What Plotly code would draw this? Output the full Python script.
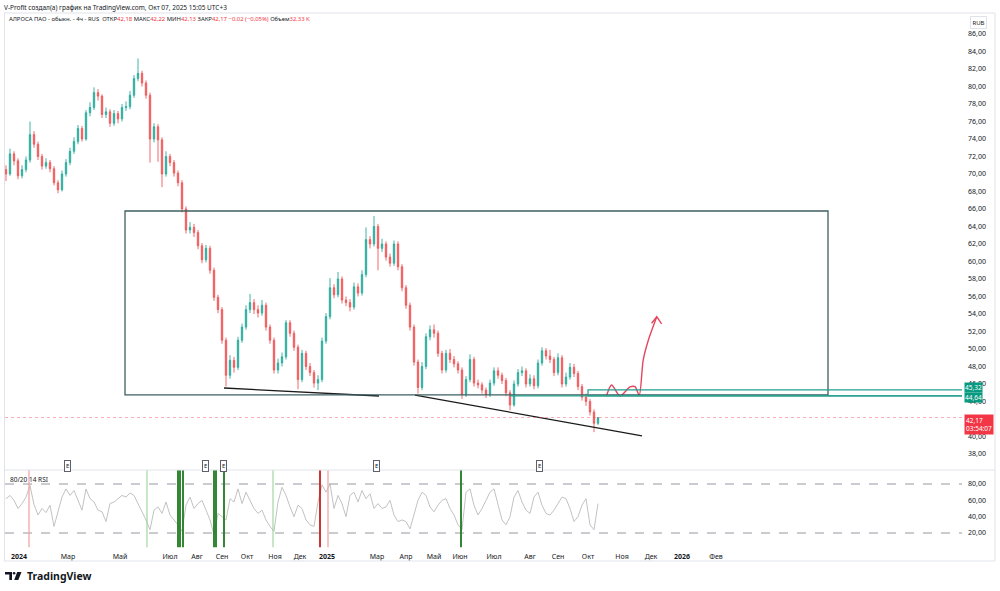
import plotly.graph_objects as go

# ---------------- data ----------------
close = [70.0, 72.3, 71.5, 69.8, 70.5, 71.6, 74.5, 73.4, 72.0, 70.9,
         71.3, 70.6, 69.0, 68.2, 70.0, 71.3, 72.6, 73.7, 75.2, 74.0,
         77.0, 77.6, 79.3, 78.9, 76.8, 77.1, 75.8, 76.9, 76.3, 77.6,
         77.7, 79.0, 80.9, 81.5, 80.4, 79.0, 74.0, 75.4, 73.9, 70.0,
         72.0, 71.3, 70.1, 69.0, 66.0, 63.6, 63.9, 63.3, 61.8, 60.2,
         61.5, 59.0, 55.9, 54.5, 51.0, 47.0, 48.7, 47.9, 51.0, 52.5,
         54.5, 55.3, 54.5, 54.1, 55.0, 52.5, 51.0, 47.6, 48.4, 49.1,
         53.0, 51.8, 50.2, 46.5, 49.5, 48.0, 47.3, 46.1, 46.5, 50.9,
         53.7, 57.0, 56.2, 58.0, 55.6, 55.3, 54.8, 57.1, 56.4, 58.5,
         62.5, 62.0, 64.0, 61.5, 62.0, 60.5, 59.8, 62.0, 59.4, 57.0,
         55.0, 52.5, 48.5, 45.6, 48.0, 51.4, 52.2, 51.8, 49.5, 47.6,
         49.5, 48.8, 48.3, 47.6, 44.8, 46.5, 48.8, 46.1, 45.9, 45.3,
         44.8, 46.1, 47.5, 47.0, 46.4, 45.0, 43.6, 46.0, 47.3, 47.5,
         46.0, 46.6, 45.8, 48.4, 49.8, 49.2, 48.8, 47.3, 49.0, 46.0,
         46.8, 47.9, 47.2, 45.7, 44.5, 44.0, 42.8, 41.5, 42.17]
high = [71.0, 72.9, 72.6, 71.8, 71.0, 72.0, 76.0, 74.9, 73.7, 72.3,
        71.8, 71.6, 70.9, 69.3, 70.4, 71.7, 73.0, 74.2, 75.6, 75.5,
        77.3, 78.2, 79.9, 79.7, 79.1, 77.6, 77.4, 77.3, 77.2, 78.0,
        78.3, 79.5, 81.3, 83.2, 81.8, 80.7, 79.3, 75.8, 75.7, 74.2,
        72.6, 72.3, 71.6, 70.4, 69.3, 66.3, 64.5, 64.3, 63.6, 62.1,
        61.9, 61.8, 59.3, 56.2, 54.8, 51.3, 49.3, 49.1, 51.4, 52.9,
        55.0, 56.3, 55.7, 55.0, 55.6, 55.3, 52.8, 51.3, 48.9, 49.6,
        53.3, 53.3, 52.1, 50.5, 49.9, 49.8, 48.4, 47.6, 47.0, 51.3,
        54.1, 58.1, 57.4, 58.8, 58.3, 56.0, 55.7, 57.6, 57.5, 59.0,
        63.9, 62.9, 65.2, 64.3, 62.6, 62.3, 60.9, 62.4, 62.3, 59.7,
        57.3, 55.3, 52.8, 48.8, 48.5, 51.8, 52.7, 52.8, 52.1, 49.8,
        49.9, 50.0, 49.2, 48.6, 47.9, 46.9, 49.4, 49.1, 46.5, 46.2,
        45.6, 46.5, 47.9, 47.9, 47.3, 46.7, 45.3, 46.4, 47.7, 48.0,
        47.8, 47.1, 47.0, 48.8, 50.2, 50.1, 49.9, 49.1, 49.5, 49.3,
        47.3, 48.4, 48.3, 47.5, 46.0, 44.9, 44.3, 43.1, 42.22]
low = [69.2, 69.8, 71.0, 69.4, 69.5, 70.2, 71.3, 73.0, 71.6, 70.5,
       70.6, 70.2, 68.7, 67.8, 68.0, 69.7, 71.0, 72.3, 73.4, 73.7,
       73.8, 76.6, 77.3, 78.4, 76.4, 76.4, 75.4, 75.5, 75.8, 76.0,
       77.2, 77.4, 78.7, 80.6, 80.0, 78.6, 71.3, 73.6, 71.4, 68.5,
       69.7, 70.9, 69.7, 68.6, 65.6, 63.2, 63.2, 62.8, 61.4, 59.8,
       59.9, 58.6, 55.5, 54.1, 50.6, 45.7, 46.6, 47.3, 47.6, 50.7,
       52.2, 54.1, 54.0, 53.6, 53.8, 52.1, 50.6, 47.2, 47.2, 48.0,
       48.8, 51.4, 49.8, 45.4, 46.2, 47.6, 46.9, 45.6, 45.3, 46.2,
       50.6, 53.4, 55.8, 55.9, 55.2, 54.9, 54.3, 54.5, 56.0, 56.1,
       58.2, 61.5, 61.7, 59.0, 61.1, 60.1, 59.4, 59.5, 59.0, 56.6,
       54.6, 52.1, 48.1, 44.9, 45.3, 47.7, 51.0, 51.3, 49.1, 47.2,
       47.3, 48.4, 47.9, 47.2, 44.3, 44.5, 46.2, 45.7, 45.5, 44.9,
       44.4, 44.5, 45.8, 46.6, 46.0, 44.6, 43.0, 43.4, 45.7, 46.9,
       45.6, 45.7, 45.4, 45.5, 48.1, 48.8, 48.4, 46.9, 47.0, 45.6,
       45.7, 46.5, 46.8, 45.3, 44.1, 43.5, 42.4, 40.5, 41.3]
first_open = 70.5
rsi = [62, 66, 60, 50, 56, 64, 78, 55, 42, 50,
       45, 54, 28, 46, 64, 74, 66, 72, 60, 48,
       74, 62, 58, 48, 46, 34, 56, 58, 62, 66,
       64, 69, 66, 56, 48, 36, 24, 48, 52, 44,
       58, 42, 36, 30, 22, 54, 64, 50, 56, 60,
       48, 36, 18, 44, 40, 36, 62, 58, 74, 56,
       70, 60, 50, 44, 48, 36, 28, 22, 58, 76,
       66, 52, 40, 54, 50, 36, 30, 28, 58, 79,
       70, 80, 50, 66, 56, 40, 66, 70, 58, 72,
       62, 68, 50, 56, 50, 52, 60, 42, 34, 36,
       34, 25, 42, 60, 70, 66, 52, 46, 54, 60,
       62, 50, 42, 30, 24, 70, 74, 54, 42, 50,
       60, 70, 74, 56, 36, 30, 40, 64, 72, 58,
       48, 44, 64, 70, 54, 44, 42, 48, 56, 64,
       62, 50, 34, 40, 54, 62, 30, 24, 56]
open_ = [first_open] + close[:-1]
bars = list(range(len(close)))

# time axis (bar positions of month starts)
month_pos = [3.25, 15.5, 28.5, 41, 47.75, 54, 60.25, 67.25, 73.5, 80.25, 92.75,
             100, 107, 113.5, 122, 131, 138, 145.5, 154, 161.25, 169, 177.5]
month_lbl = ["<b>2024</b>", "Мар", "Май", "Июл", "Авг", "Сен", "Окт", "Ноя", "Дек",
             "<b>2025</b>", "Мар", "Апр", "Май", "Июн", "Июл", "Авг", "Сен", "Окт",
             "Ноя", "Дек", "<b>2026</b>", "Фев"]
price_ticks = [38, 40, 44, 46, 48, 50, 52, 54, 56, 58, 60, 62, 64, 66, 68, 70, 72,
               74, 76, 78, 80, 82, 84, 86]
price_lbls = [f"{v},00" for v in price_ticks]
rsi_ticks = [20, 40, 60, 80]
rsi_lbls = ["20,00", "40,00", "60,00", "80,00"]

# RSI signal bars
sig_bar = [5.75, 35.25, 43, 43.5, 44.25, 52, 52.5, 54.5, 66.75, 78.5, 80.5, 113.75]
sig_kind = ["ob2", "os2", "os", "os", "os", "os", "os", "os", "os2", "ob", "ob2", "os"]
# earnings markers
earn_bar = [15.25, 49.75, 54.25, 92.5, 133.25]

# drawings
box_x = [29.75, 205.5]
box_y = [44.75, 65.77]
trend1_x = [54.5, 93.25]
trend1_y = [45.54, 44.63]
trend2_x = [102.25, 159]
trend2_y = [44.74, 40.06]
zone_x0 = 145.5
zone_y = [44.64, 45.32]
level_x0 = 126
path_x = [150.2, 151.4, 153.5, 156, 157.25, 158.3, 159.3, 160.6, 162.7]
path_y = [44.74, 45.89, 44.63, 45.66, 45.69, 44.74, 48.74, 51.03, 53.69]
head_x = [161.4, 162.7, 163.9]
head_y = [52.94, 53.69, 52.86]
last_price = 42.17

# ---------------- layout helpers ----------------
XR = [-0.25, 239]
Y1R = [36.171, 88.4]
Y2R = [5.31, 97.14]
def px(xp):
    return (xp - 5) / 957
def py(yp):
    return (545 - yp) / 532

FONT = "Noto Sans"
TXT = "#131722"
UP, DN = "#2bab9c", "#f0585a"

fig = go.Figure()
fig.add_trace(go.Candlestick(
    x=bars, open=open_, high=high, low=low, close=close,
    increasing=dict(line=dict(color=UP, width=0.9), fillcolor=UP),
    decreasing=dict(line=dict(color=DN, width=0.9), fillcolor=DN),
    xaxis="x", yaxis="y", showlegend=False, hoverinfo="skip"))

# drawings on main pane
fig.add_trace(go.Scatter(x=trend1_x, y=trend1_y, mode="lines",
                         line=dict(color="#1a1a1a", width=1.3), xaxis="x", yaxis="y",
                         showlegend=False, hoverinfo="skip"))
fig.add_trace(go.Scatter(x=trend2_x, y=trend2_y, mode="lines",
                         line=dict(color="#1a1a1a", width=1.3), xaxis="x", yaxis="y",
                         showlegend=False, hoverinfo="skip"))
fig.add_trace(go.Scatter(x=path_x, y=path_y, mode="lines",
                         line=dict(color="#e5455f", width=1.4, shape="spline", smoothing=0.8),
                         xaxis="x", yaxis="y", showlegend=False, hoverinfo="skip"))
fig.add_trace(go.Scatter(x=head_x, y=head_y, mode="lines",
                         line=dict(color="#e5455f", width=1.4), xaxis="x", yaxis="y",
                         showlegend=False, hoverinfo="skip"))

# RSI line
fig.add_trace(go.Scatter(x=bars, y=rsi, mode="lines",
                         line=dict(color="#c2c2c2", width=1), xaxis="x2", yaxis="y2",
                         showlegend=False, hoverinfo="skip"))

shapes = []
# main box
shapes.append(dict(type="rect", xref="x", yref="y", x0=box_x[0], x1=box_x[1],
                   y0=box_y[0], y1=box_y[1], line=dict(color="#3e5f61", width=1.3)))
# teal zone + level
shapes.append(dict(type="rect", xref="x", yref="y", x0=zone_x0, x1=XR[1] + 5,
                   y0=zone_y[0], y1=zone_y[1], line=dict(color="#22a08c", width=1.2)))
shapes.append(dict(type="line", xref="x", yref="y", x0=level_x0, x1=XR[1] + 5,
                   y0=zone_y[0], y1=zone_y[0], line=dict(color="#22a08c", width=1.2)))
# last price line
shapes.append(dict(type="line", xref="paper", yref="y", x0=0, x1=1,
                   y0=last_price, y1=last_price,
                   line=dict(color="rgba(242,54,69,0.4)", width=1, dash="dot")))
# RSI bands
for lv in (80, 20):
    shapes.append(dict(type="line", xref="paper", yref="y2", x0=0, x1=1, y0=lv, y1=lv,
                       line=dict(color="#9598a1", width=1, dash="dash")))
# RSI signals
sig_style = {"os": ("#1f7a1f", 1.8), "os2": ("#8fcf8f", 1),
             "ob": ("#c81e1e", 1.8), "ob2": ("#f0a0a0", 1.2)}
for b, k in zip(sig_bar, sig_kind):
    c, w = sig_style[k]
    shapes.append(dict(type="line", xref="x2", yref="y2 domain", x0=b, x1=b, y0=-0.03, y1=1,
                       line=dict(color=c, width=w)))
# frame lines
FR = "#e0e3eb"
shapes += [
    dict(type="line", xref="paper", yref="paper", x0=px(4), x1=px(995), y0=py(13), y1=py(13), line=dict(color=FR, width=1)),
    dict(type="line", xref="paper", yref="paper", x0=px(4), x1=px(995), y0=py(561), y1=py(561), line=dict(color=FR, width=1)),
    dict(type="line", xref="paper", yref="paper", x0=px(4.5), x1=px(4.5), y0=py(13), y1=py(561), line=dict(color=FR, width=1)),
    dict(type="line", xref="paper", yref="paper", x0=px(995), x1=px(995), y0=py(13), y1=py(561), line=dict(color=FR, width=1)),
    dict(type="line", xref="paper", yref="paper", x0=px(4), x1=px(995), y0=py(470), y1=py(470), line=dict(color=FR, width=1)),
]
# TradingView logo glyph
shapes += [
    dict(type="path", xref="paper", yref="paper", fillcolor="#131722", line=dict(width=0),
         path=f"M {px(5)} {py(572)} L {px(12)} {py(572)} L {px(12)} {py(580)} L {px(9.3)} {py(580)} "
              f"L {px(9.3)} {py(574.6)} L {px(5)} {py(574.6)} Z"),
    dict(type="circle", xref="paper", yref="paper", fillcolor="#131722", line=dict(width=0),
         x0=px(12.8), x1=px(15.4), y0=py(572), y1=py(574.6)),
    dict(type="path", xref="paper", yref="paper", fillcolor="#131722", line=dict(width=0),
         path=f"M {px(17.2)} {py(572)} L {px(21.5)} {py(572)} L {px(18.3)} {py(580)} L {px(14.2)} {py(580)} Z"),
]

ann = []
ann.append(dict(xref="paper", yref="paper", x=px(2), y=py(7), xanchor="left", yanchor="middle",
                showarrow=False, text="V-Profit создал(а) график на TradingView.com, Окт 07, 2025 15:05 UTC+3",
                font=dict(family=FONT, size=6.5, color=TXT)))
R = "#f23645"
nb = "\u00a0"
leg = (f"АЛРОСА ПАО - обыкн. - 4ч - RUS{nb}{nb}ОТКР<span style='color:{R}'>42,18</span>{nb}"
       f"МАКС<span style='color:{R}'>42,22</span>{nb}МИН<span style='color:{R}'>42,13</span>{nb}"
       f"ЗАКР<span style='color:{R}'>42,17</span>{nb}<span style='color:{R}'>−0,02 (−0,05%)</span>{nb}"
       f"Объем<span style='color:{R}'>32,33{nb}K</span>")
ann.append(dict(xref="paper", yref="paper", x=px(7), y=py(19), xanchor="left", yanchor="middle",
                showarrow=False, text=leg, font=dict(family=FONT, size=5.9, color=TXT)))
ann.append(dict(xref="paper", yref="paper", x=px(8), y=py(479), xanchor="left", yanchor="middle",
                showarrow=False, text="80/20 14 RSI", font=dict(family=FONT, size=6.5, color=TXT)))
ann.append(dict(xref="paper", yref="paper", x=px(979), y=py(22.5), xanchor="center", yanchor="middle",
                showarrow=False, text="RUB", font=dict(family=FONT, size=6, color=TXT),
                bordercolor=FR, borderwidth=1, borderpad=1.5, bgcolor="white"))
for b in earn_bar:
    ann.append(dict(xref="x", yref="paper", x=b, y=py(465.5), xanchor="center", yanchor="middle",
                    showarrow=False, text="E", font=dict(family=FONT, size=6, color=TXT),
                    bordercolor="#5d606b", borderwidth=1, borderpad=1, bgcolor="white"))
# price-scale labels
ann.append(dict(xref="paper", yref="y", x=px(964), y=zone_y[1], xanchor="left", yanchor="middle",
                yshift=2.5, showarrow=False, text="45,32", font=dict(family=FONT, size=6.5, color="white"),
                bgcolor="#089981", borderpad=0))
ann.append(dict(xref="paper", yref="y", x=px(964), y=zone_y[0], xanchor="left", yanchor="middle",
                yshift=-2, showarrow=False, text="44,64", font=dict(family=FONT, size=6.5, color="white"),
                bgcolor="#089981", borderpad=0))
ann.append(dict(xref="paper", yref="y", x=px(964), y=last_price, xanchor="left", yanchor="top",
                yshift=4, showarrow=False, text="42,17<br>03:54:07", align="left",
                font=dict(family=FONT, size=6.5, color="white"), bgcolor="#f23645", borderpad=1))
ann.append(dict(xref="paper", yref="paper", x=px(25), y=py(576), xanchor="left", yanchor="middle",
                showarrow=False, text="<b>TradingView</b>", font=dict(family=FONT, size=10.5, color=TXT)))

axfont = dict(family=FONT, size=7, color=TXT)
fig.update_layout(
    width=1000, height=591, margin=dict(l=5, r=38, t=13, b=46),
    paper_bgcolor="white", plot_bgcolor="white",
    font=dict(family=FONT), boxgap=0.5,
    showlegend=False, shapes=shapes, annotations=ann,
    xaxis=dict(domain=[0, 1], anchor="y", range=XR, showticklabels=False, showgrid=False,
               zeroline=False, showline=False, rangeslider=dict(visible=False), fixedrange=True),
    xaxis2=dict(domain=[0, 1], anchor="y2", range=XR, tickvals=month_pos, ticktext=month_lbl,
                tickfont=axfont, showgrid=False, zeroline=False, showline=False, ticks="",
                ticklabelstandoff=6, fixedrange=True),
    yaxis=dict(domain=[py(470), 1], anchor="x", side="right", range=Y1R, tickvals=price_ticks,
               ticktext=price_lbls, tickfont=axfont, showgrid=False, zeroline=False,
               showline=False, ticks="", ticklabelstandoff=5, fixedrange=True),
    yaxis2=dict(domain=[0, py(470)], anchor="x2", side="right", range=Y2R, tickvals=rsi_ticks,
                ticktext=rsi_lbls, tickfont=axfont, showgrid=False, zeroline=False,
                showline=False, ticks="", ticklabelstandoff=5, fixedrange=True),
)

fig.write_html("out.html")
